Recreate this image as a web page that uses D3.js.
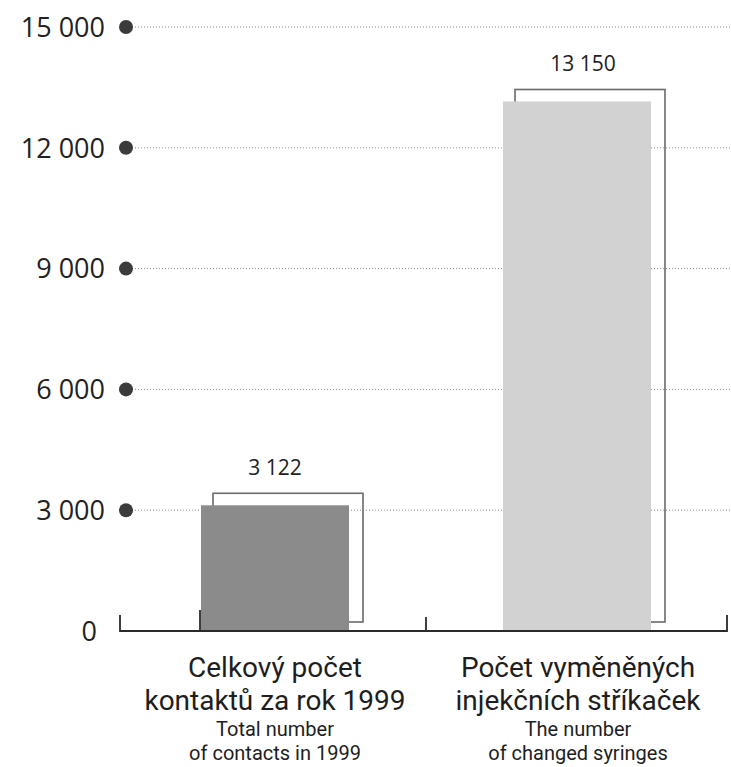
<!DOCTYPE html>
<html><head><meta charset="utf-8">
<script src="https://cdn.jsdelivr.net/npm/d3@7/dist/d3.min.js"></script>
<style>
html,body{margin:0;padding:0;background:#fff;}
svg{display:block;font-family:"Open Sans",sans-serif;}
</style></head>
<body>
<svg id="chart" width="731" height="767"></svg>
<script>
const categories = ["contacts", "syringes"];
const values = [3122, 13150];
const valueLabels = ["3 122", "13 150"];
const titleCz = [["Celkový počet", "kontaktů za rok 1999"], ["Počet vyměněných", "injekčních stříkaček"]];
const titleEn = [["Total number", "of contacts in 1999"], ["The number", "of changed syringes"]];
const yTicks = [0, 3000, 6000, 9000, 12000, 15000];
const yTickLabels = ["0", "3 000", "6 000", "9 000", "12 000", "15 000"];
const barColors = ["#8b8b8b", "#d2d2d2"];

const svg = d3.select("#chart");
const y = d3.scaleLinear().domain([0, 15000]).range([631, 27]);
const x = d3.scaleBand().domain(categories).range([124, 728]).paddingInner(0.51).paddingOuter(0.255);
const bw = x.bandwidth();

// gridlines
const grid = svg.append("g");
yTicks.filter(t => t > 0).forEach(t => {
  grid.append("line").attr("x1", 132).attr("x2", 731).attr("y1", y(t)).attr("y2", y(t))
    .attr("stroke", "#8a8a8a").attr("stroke-width", 1).attr("stroke-dasharray", "1,2");
  grid.append("circle").attr("cx", 126).attr("cy", y(t)).attr("r", 7).attr("fill", "#3b3b3b");
});
// tick labels
yTicks.forEach((t, i) => {
  svg.append("text").attr("x", t === 0 ? 97 : 105).attr("y", y(t)).attr("dy", "0.36em")
    .attr("text-anchor", "end").attr("font-size", 27).attr("fill", "#222").text(yTickLabels[i]);
});

// frames + bars
categories.forEach((c, i) => {
  const bx = x(c), by = y(values[i]);
  svg.append("rect").attr("x", bx + 12).attr("y", by - 12)
    .attr("width", bw + 2).attr("height", y(0) - 9 - (by - 12))
    .attr("fill", "none").attr("stroke", "#6a6a6a").attr("stroke-width", 1.6);
  svg.append("rect").attr("x", bx).attr("y", by).attr("width", bw).attr("height", y(0) - by)
    .attr("fill", barColors[i]);
  svg.append("text").attr("x", bx + bw / 2 + (i ? 6 : 0)).attr("y", by - 30)
    .attr("text-anchor", "middle").attr("font-size", 21).attr("fill", "#222").text(valueLabels[i]);
});

// baseline with ticks
const r = x.range();
const x0 = r[0] - 4, xa = x(categories[0]) - 1, xm = (x(categories[0]) + bw + x(categories[1])) / 2, x1 = r[1] - 1;
const by0 = y(0);
svg.append("path")
  .attr("d", `M${x0},${by0 - 16}V${by0}H${x1}V${by0 - 16}M${xa},${by0}V${by0 - 21}M${xm},${by0}V${by0 - 14}`)
  .attr("fill", "none").attr("stroke", "#2a2a2a").attr("stroke-width", 1.8);

// category labels
const czY = [677, 710], enY = [735.5, 759.5];
categories.forEach((c, i) => {
  const cx = x(c) + bw / 2 + (i ? 1 : 0);
  titleCz[i].forEach((line, j) => {
    svg.append("text").attr("x", cx).attr("y", czY[j]).attr("text-anchor", "middle")
      .style("font-family", "Roboto, sans-serif").attr("font-size", 28).attr("fill", "#1e1e1e").text(line);
  });
  titleEn[i].forEach((line, j) => {
    svg.append("text").attr("x", cx).attr("y", enY[j]).attr("text-anchor", "middle")
      .style("font-family", "Roboto, sans-serif").attr("font-size", 20).attr("fill", "#1e1e1e").text(line);
  });
});
</script>
</body></html>
